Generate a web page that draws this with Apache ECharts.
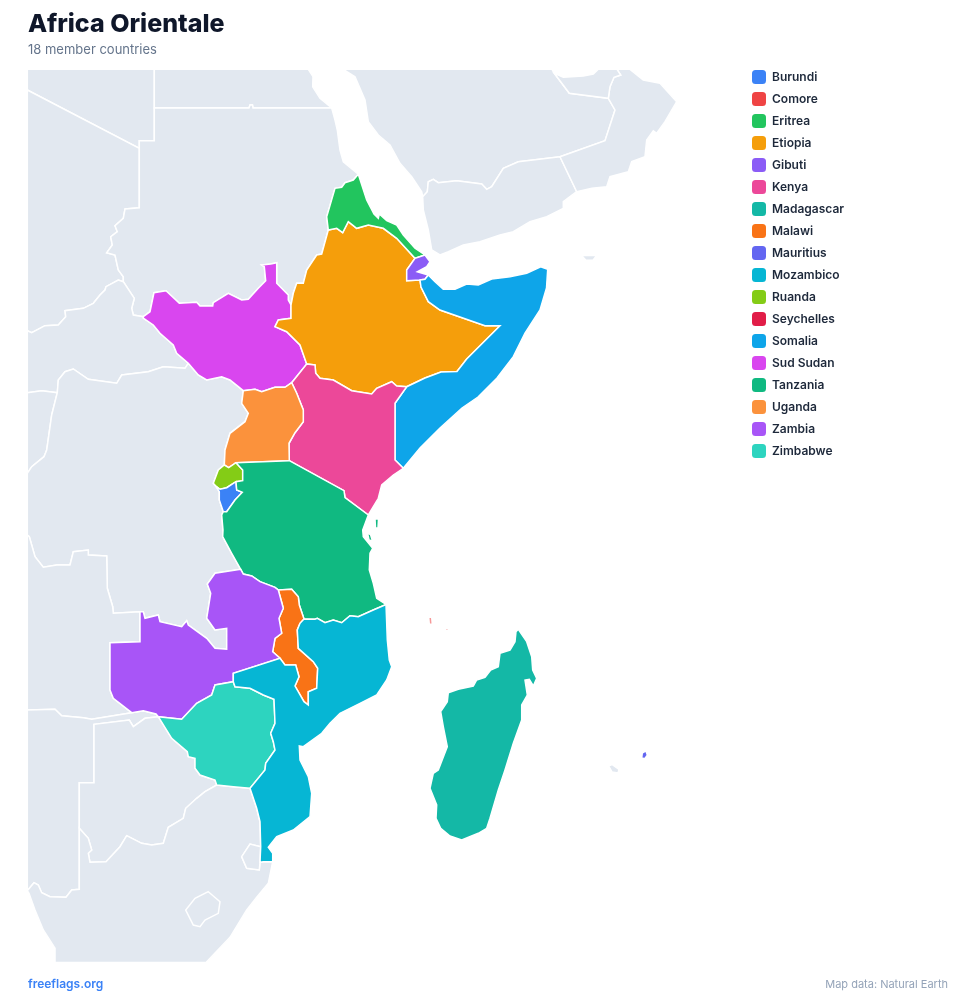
<!DOCTYPE html>
<html>
<head>
<meta charset="utf-8">
<title>Africa Orientale</title>
<script src="https://cdn.jsdelivr.net/npm/echarts@6/dist/echarts.min.js"></script>
<style>
  html, body { margin: 0; padding: 0; background: #fff; }
  #chart { width: 976px; height: 1002px; }
</style>
</head>
<body>
<div id="chart"></div>
<script>
// member countries, legend order
const countries = ['Burundi', 'Comore', 'Eritrea', 'Etiopia', 'Gibuti', 'Kenya', 'Madagascar', 'Malawi', 'Mauritius',
    'Mozambico', 'Ruanda', 'Seychelles', 'Somalia', 'Sud Sudan', 'Tanzania', 'Uganda', 'Zambia', 'Zimbabwe'];
const countryColors = ['#3b82f6', '#ef4444', '#22c55e', '#f59e0b', '#8b5cf6', '#ec4899', '#14b8a6', '#f97316', '#6366f1',
    '#06b6d4', '#84cc16', '#e11d48', '#0ea5e9', '#d946ef', '#10b981', '#fb923c', '#a855f7', '#2dd4bf'];
// too small for a border
const noBorder = ['Comore', 'Mauritius'];

// shared borders, in map units
const arcs = {
    ssd_n: '143.3,316.7 150,311.7 154,292.7 166,290.7 179.3,303.3 196.7,302.3 200,306 212.7,306 213.3,302.7 228.3,293.3 241.7,300 248.3,299.3 258.3,288.3 265.7,280.7 264.3,266.7 261.7,265 270.7,264 276.7,262.7 276.7,283.3 288.3,295 288.3,300 291,305',
    ssd_eth: '291,305 291,318.3 278.3,320 275,326.7 286.7,331.7 300,345 306.7,364',
    ssd_ke: '306.7,364 291.7,382.7',
    ssd_ug: '291.7,382.7 285,387.3 275,387.3 261.7,391.7 255,389.3 243.3,390.7',
    ssd_drc: '243.3,390.7 230,380 221.7,376.7 206.7,380 198.3,375 188.3,363.3',
    ssd_car: '188.3,363.3 176.7,353.3 173.3,345 160,333.3 153.3,325 143.3,318 143.3,316.7',
    sud_eth: '291,305 293.3,293.3 296.7,283.3 303.3,283.3 306.7,270 316.7,255 321.7,254 328.3,230',
    sud_eri: '328.3,230 326.7,216.7 335,188.3 341.7,187.3 345,182.7 353.3,180 358.3,174.3',
    eth_eri: '328.3,230 336.7,228.3 342.7,232.7 348.3,221.7 356.7,228.3 368.3,225 383.3,228.3 396.7,238.3 415,258.3',
    eri_coast: '358.3,174.3 366.7,200 374,214 378.3,218.3 379.3,214 386.7,220.7 396.7,225 403.3,235 415,248.3 425,255',
    eri_dji: '425,255 415,258.3',
    eth_dji: '415,258.3 406.7,270 406.7,280.7 420,280',
    dji_som: '420,280 425,279.3 428.3,275',
    dji_coast: '425,255 430,261.7 426.7,266.7 417.3,271.7 428.3,275',
    eth_som: '420,280 421,287 428.3,301.7 440,310 485,325.7 500,325.7 466.7,359 457,371.5 441,372 425,378 406.7,386.7',
    eth_ke: '306.7,364 315,365 315.7,373.3 320,378.3 333.3,380 351.7,390.7 371.7,394 376.7,388.3 391.7,381.7 396.7,386 406.7,386.7',
    ke_som: '406.7,386.7 395,403.3 395,460 403.3,468.3',
    som_coast: '428.3,275 435,281.7 443.3,289.3 455,289.3 466.7,284 478.3,285 491.7,279 510,276.7 526.7,273.3 540.7,266.7 547.7,269.3 546.5,288 540,310 525,333 513.3,356.7 497,378 478,397 462,408 440,428 420,448 403.3,468.3',
    ke_coast: '403.3,468.3 393.3,475 381.7,485 378.3,498.3 368.3,515',
    ke_tz: '368.3,515 345,497.7 344,490.7 289.3,460.7',
    ke_ug: '289.3,460.7 289,443.3 295,432.7 303.3,421.7 303.3,410 296.7,393.3 291.7,382.7',
    ug_drc: '243.3,390.7 241.7,403.3 248.3,413.3 245,421.7 230,433.3 225,450 224.3,465',
    ug_rw: '224.3,465 228.7,467.7 236,462.7',
    ug_tz: '236,462.7 289.3,460.7',
    rw_drc: '224.3,465 218.3,470 213.3,483.3 215.7,486',
    rw_tz: '236,462.7 242.7,470 242.7,480.7 236,481.7',
    rw_bu: '236,481.7 233.3,483.3 226.7,487.7 220,489.3 215.7,486',
    bu_drc: '215.7,486 219.3,491.7 219.3,500 223.3,511.7',
    bu_tz: '236,481.7 236.7,490 242.3,492.3 235,500 226.7,511.7 223.3,511.7',
    tz_drc: '223.3,511.7 221.7,515 223,530 222.7,536.7 231.7,553.3 240.7,569.3',
    tz_zm: '240.7,569.3 243.3,574 251.7,576 260,581.7 275,587.3 278.3,590',
    tz_mw: '278.3,590 291.7,589.3 298.3,596.7 299.3,605 304,619',
    tz_mz: '304,619 315,619.3 317.3,618.3 325,622.7 333.3,620 341.7,622.7 350,615.7 358.3,616.7 373.3,610 386,604.5',
    tz_coast: '386,604.5 376.7,598.3 373.3,583.3 369.3,570 370,553.3 372.7,548.3 363.3,536.7 362.7,530 368.3,515',
    mw_zm: '278.3,590 283.3,608.3 279,618.3 281.7,633.3 275,638.3 272.7,651.7 280,658.3',
    mw_mz: '280,658.3 285,665 295.7,665 299,676.7 295,686 304,701.7 308.3,705 308.3,691.7 316.7,688.3 317.7,668.3 313.3,661.7 298.3,648.3 297.3,630 300,623.3 304,619',
    zm_drc: '240.7,569.3 215,573.3 207.3,584 210.7,593.3 206.7,618.3 215,630 226.7,628.3 226.7,649.3 215,648.3 206.7,638.3 188.3,625 186.7,620.7 181.7,626.7 160,621.7 158.3,615 145,618.3 143.3,611.7 140,611.7',
    zm_ao: '140,611.7 140,641.7 110,642.7 110,690 113.3,698.3 131.7,712.7',
    zm_na: '131.7,712.7 143.3,710.7 156,714 158.3,716.7',
    zm_zw: '158.3,716.7 170,718 181.7,719.3 196.7,703.3 211.7,695 215,685 233.3,681.7',
    zm_mz: '233.3,681.7 233.3,673.3 280,658.3',
    zw_mz: '233.3,681.7 235,686.7 250,688.3 263.3,695 274,699.3 275,723.3 270.7,733.3 273.3,741.7 275,750 265.7,763.3 265,770 250,788.3',
    zw_sa: '250,788.3 233.3,786.7 216.7,785',
    zw_bw: '216.7,785 215,780 200,775 195,768.3 195,758.3 188.3,756.7 187.3,751.7 171.7,738.3 158.3,716.7',
    mz_coast: '386,604.5 387.3,640 389.3,660 391.7,666.7 386.7,680 376.7,695 360,703.3 340,713.3 330,723.3 321.7,733.3 303.3,746.7 299.3,746 300,760 308.3,776.7 311.7,793.3 310,816.7 293.3,830 276.7,836.7 268.3,847.3 272.7,853.3 272.7,861.7',
    mz_sa: '272.7,861.7 263.3,861.7 260,862.3',
    mz_sz: '260,862.3 260.7,846.7',
    mz_sa2: '260.7,846.7 260,821.7 256.7,808.3 250,788.3',
    sz_sa: '260.7,846.7 250,844 241.7,856.7 246.7,868.3 259.3,870 260,862.3',
    sa_coast: '272.7,861.7 268.3,883.3 256.7,897.3 246.7,910 230,937.3 206,962.6 55,962.6 55,948.3 43.3,930 35,910 29,893.3 27.3,890.7',
    sa_na: '27.3,890.7 34,882.7 38.3,885 41.7,892.7 50,896.7 66,897.3 71.7,890 79.3,889.3 79.3,828.3',
    na_bw: '79.3,828.3 79.3,782.7 94,782.7 94,724.3 129.3,720 133.3,726.7 145,718.3 158.3,716.7',
    ao_na: '131.7,712.7 91.7,719.3 83.3,717.7 61.7,715.7 55,709.3 27.3,710',
    bw_sa: '79.3,828.3 88.3,838.3 91.7,850 88.3,853.3 90,862.3 106,861.7 120,846.7 126.7,835.7 141.7,843.3 151.7,845 163.3,843.3 168.3,827.3 183.3,818.3 185.7,808.3 196.7,798.3 205,791.7 216.7,785',
    ao_drc: '27.3,535 29.3,536.7 35,556.7 43.3,567.3 56.7,565 70,565 73.3,551.7 88.3,550 88.3,555 106.7,556 107.3,588.3 112.7,606.7 113.3,613.3 140,611.7',
    congo_drc: '27.3,473.3 31.7,466.7 44,456.7 46.7,450 51.7,415 57.3,392.7',
    car_drc: '57.3,392.7 58.3,380 65,371.7 73.3,369 88.3,379.3 116.7,383.3 121.7,375 148.3,371.7 163.3,366.7 185,368.3 188.3,363.3',
    car_congo: '27.3,392.7 41.7,390.7 57.3,392.7',
    car_chad: '27.3,330.7 31.7,332.7 45,325.7 58.3,325 65.7,316.7 65,310.7 83.3,308.3 93.3,303.3 100,295 105,290 106,286.7 118.3,280 123.3,281.7',
    car_sud: '123.3,281.7 134.3,298.3 131.7,308.3 133.3,315 143.3,316.7',
    chad_sud: '123.3,281.7 123.3,276.7 118.3,270 115,255 106.7,252.7 112.3,245 110.7,236.7 117.3,231.7 115,225.7 123.3,218.3 125,209 139.3,207.7 139.3,148.3',
    lib_sud: '139.3,148.3 139.3,140.7 154.3,140.7 154.3,108',
    chad_lib: '27.3,90 139.3,148.3',
    lib_top: '27.3,69.3 154.3,69.3',
    lib_egy: '154.3,69.3 154.3,108',
    egy_sud: '154.3,108 249,108 250,105 252.5,105 253,108 331.7,108',
    egy_coast: '331.7,108 320,98.3 312.7,86.7 313,76.7 308.3,69.3',
    sud_coast: '331.7,108 335,120 337.3,130 340,150 343.3,161.7 358.3,174.3',
    sau_coast: '343.3,69.3 355,76.7 365,100 368.3,121.7 378.3,135 390,145 400,163.3 411.7,176.7 421.7,191.7 422.7,196.7',
    sau_yem: '422.7,196.7 427.3,191.7 428.3,181.7 433.3,179.3 438.3,182.7 456.7,180.7 481.7,184 486.7,189.3 491.7,186.7 503.3,168.3 518.3,161.7 560,156.7',
    sau_oman: '560,156.7 605,140.7 615,110 608.3,98.3',
    sau_uae: '608.3,98.3 569.3,93.3 554.3,73.3',
    sau_top: '554.3,73.3 552,69.3',
    uae_oman: '608.3,98.3 610,86.7 614,77.3 620.7,75 617,69.3',
    uae_coast: '617,69.3 598.3,69.3 593.3,74 583.3,76 563.3,77.3 554.3,73.3',
    yem_oman: '560,156.7 576.7,191.7',
    yem_coast: '576.7,191.7 563.3,201.7 563.3,208.3 546.7,216.7 530,221.7 513.3,231.7 500,235 480,241.7 463.3,245 448.3,251.7 440,255 431.7,250 428.3,230 423.3,210 422.7,196.7',
    oman_coast: '576.7,191.7 592,188.3 606.7,186.7 610,176.7 628.3,171.7 631.7,161.7 645,156.7 646.7,140 653.3,130.7 656.7,133.3 665,121.7 676.7,101.7 660,83.3 643.3,80 630,69.3 617,69.3'
};

// each region: rings of arcs, '-' walks an arc backwards
const regionArcs = {
    'Libya': ['lib_top lib_egy -lib_sud -chad_lib'],
    'Egypt': ['lib_egy egy_sud egy_coast'],
    'Chad': ['chad_lib -chad_sud -car_chad'],
    'Sudan': ['egy_sud sud_coast -sud_eri -sud_eth -ssd_n -car_sud chad_sud lib_sud'],
    'Central African Rep.': ['car_chad car_sud -ssd_car -car_drc -car_congo'],
    'Congo': ['car_congo -congo_drc'],
    'Dem. Rep. Congo': ['congo_drc car_drc -ssd_drc ug_drc rw_drc bu_drc tz_drc zm_drc -ao_drc'],
    'Angola': ['ao_drc zm_ao ao_na'],
    'Namibia': ['sa_na na_bw -zm_na ao_na'],
    'Botswana': ['-na_bw bw_sa zw_bw'],
    'South Africa': ['sa_na bw_sa -zw_sa -mz_sa2 sz_sa -mz_sa sa_coast'],
    'Eswatini': ['sz_sa mz_sz'],
    'Saudi Arabia': ['sau_coast sau_yem sau_oman sau_uae sau_top'],
    'Yemen': ['sau_yem yem_oman yem_coast'],
    'Oman': ['-sau_oman yem_oman oman_coast -uae_oman'],
    'United Arab Emirates': ['uae_oman uae_coast -sau_uae'],
    'Sud Sudan': ['ssd_n ssd_eth ssd_ke ssd_ug ssd_drc ssd_car'],
    'Etiopia': ['sud_eth eth_eri eth_dji eth_som -eth_ke -ssd_eth'],
    'Eritrea': ['sud_eri eri_coast eri_dji -eth_eri'],
    'Gibuti': ['dji_coast -dji_som -eth_dji -eri_dji'],
    'Somalia': ['som_coast -ke_som -eth_som dji_som'],
    'Kenya': ['eth_ke ke_som ke_coast ke_tz ke_ug -ssd_ke'],
    'Uganda': ['ssd_ug ug_drc ug_rw ug_tz ke_ug'],
    'Ruanda': ['ug_rw rw_tz rw_bu -rw_drc'],
    'Burundi': ['-rw_bu bu_tz -bu_drc'],
    'Tanzania': ['ug_tz -ke_tz -tz_coast -tz_mz -tz_mw -tz_zm -tz_drc -bu_tz -rw_tz'],
    'Malawi': ['mw_zm mw_mz -tz_mw'],
    'Zambia': ['zm_drc zm_ao zm_na zm_zw zm_mz -mw_zm -tz_zm'],
    'Zimbabwe': ['zw_mz zw_sa zw_bw zm_zw'],
    'Mozambico': ['mz_coast mz_sa mz_sz mz_sa2 -zw_mz zm_mz mw_mz tz_mz']
};

// islands and enclaves with no shared border
const loose = {
    'Lesotho': ['208.3,891.7 220,901.7 218.3,913.3 205,920 200,926.7 193.3,925 185.7,910 195,898.3'],
    'Socotra': ['581.5,255.6 596.5,255.6 593,260.3 586,260.3'],
    'Reunion': ['608.5,766 612,764.5 619,769.5 618,773 612,772'],
    'Madagascar': ['518.3,629.3 526.7,641.7 531.7,656.7 532.7,670 536.7,678.3 533.3,686 529.3,679.3 525,680 527.3,695 521.7,705 521.7,720 513.3,743.3 505,770 498.3,790 490,818.3 486.7,828.3 478.3,833.3 461.7,840 450,836 440.7,828.3 436,818.3 436.7,805 430,788.3 433.3,773.3 438.3,770 447.3,746.7 443.3,726.7 440.7,711.7 447.3,701.7 448.3,692.7 458.3,689.3 473.3,686 476.7,680 485,677.3 490.7,670 498.3,666.7 500,653.3 510,650 515,641.7 516,631.7'],
    'Mauritius': ['642.5,757.5 643,753.5 645.5,752 646.5,755 644.5,757.8'],
    'Comore': ['429.5,618 431,618 431.5,623.5 430,623.5', '446.5,629 448,629 448,630 446.5,630']
};
// Tanzania's two islands
const tanzaniaIslands = ['375,519 378.5,519 378,528 375.5,528', '367.5,533 370.5,534.5 372.5,541 369,540'];

function parsePoints(s) {
    return s.split(' ').map(p => p.split(',').map(Number));
}

function ringFromArcs(names) {
    let ring = [];
    names.split(' ').forEach(name => {
        let pts = name[0] === '-' ? parsePoints(arcs[name.slice(1)]).reverse() : parsePoints(arcs[name]);
        ring = ring.concat(ring.length ? pts.slice(1) : pts);
    });
    ring.push(ring[0]);
    return ring;
}

function closed(s) {
    let pts = parsePoints(s);
    pts.push(pts[0]);
    return pts;
}

const features = [];
Object.keys(regionArcs).forEach(name => {
    let polys = regionArcs[name].map(r => [ringFromArcs(r)]);
    if (name === 'Tanzania') tanzaniaIslands.forEach(s => polys.push([closed(s)]));
    features.push({ type: 'Feature', properties: { name }, geometry: { type: 'MultiPolygon', coordinates: polys } });
});
Object.keys(loose).forEach(name => {
    features.push({ type: 'Feature', properties: { name }, geometry: { type: 'MultiPolygon', coordinates: loose[name].map(s => [closed(s)]) } });
});

echarts.registerMap('africa-orientale', { type: 'FeatureCollection', features });

const chart = echarts.init(document.getElementById('chart'), null, { renderer: 'canvas' });

const font = 'Inter';
const coloured = countries.map((name, i) => ({
    name,
    value: 1,
    itemStyle: {
        color: countryColors[i],
        areaColor: countryColors[i],
        borderWidth: noBorder.includes(name) ? 0 : 1.5,
        opacity: name === 'Comore' ? 0.55 : 1
    }
}));

chart.setOption({
    animation: false,
    backgroundColor: '#ffffff',
    title: [
        {
            text: 'Africa Orientale',
            subtext: '18 member countries',
            left: 28,
            top: 12,
            padding: 0,
            itemGap: 7,
            textStyle: { fontFamily: font, fontSize: 25, fontWeight: 800, color: '#0f172a' },
            subtextStyle: { fontFamily: font, fontSize: 13, color: '#64748b' }
        },
        {
            text: 'freeflags.org',
            left: 28,
            top: 978,
            padding: 0,
            textStyle: { fontFamily: font, fontSize: 12, fontWeight: 600, color: '#3b82f6' }
        },
        {
            text: 'Map data: Natural Earth',
            right: 28,
            top: 979,
            padding: 0,
            textStyle: { fontFamily: font, fontSize: 11, fontWeight: 400, color: '#94a3b8' }
        }
    ],
    legend: {
        orient: 'vertical',
        left: 752,
        top: 70,
        padding: 0,
        itemWidth: 14,
        itemHeight: 14,
        itemGap: 8,
        icon: 'roundRect',
        selectedMode: false,
        data: countries,
        textStyle: { fontFamily: font, fontSize: 12, fontWeight: 600, color: '#1e293b', padding: [0, 0, 0, 1] }
    },
    series: [
        {
            type: 'map',
            map: 'africa-orientale',
            projection: {
                project: p => p,
                unproject: p => p
            },
            boundingCoords: [[28, 70], [720, 962]],
            left: 28,
            top: 70,
            width: 692,
            height: 892,
            roam: false,
            silent: true,
            selectedMode: false,
            showLegendSymbol: false,
            label: { show: false },
            emphasis: { disabled: true },
            itemStyle: { areaColor: '#e2e8f0', borderColor: '#ffffff', borderWidth: 1.5 },
            data: coloured
        },
        // map series gives the legend nothing, this zero-size pie feeds it
        {
            type: 'pie',
            radius: [0, 0],
            silent: true,
            label: { show: false },
            labelLine: { show: false },
            data: coloured.map(d => ({ name: d.name, value: d.value, itemStyle: { color: d.itemStyle.color } }))
        }
    ]
});
</script>
</body>
</html>
